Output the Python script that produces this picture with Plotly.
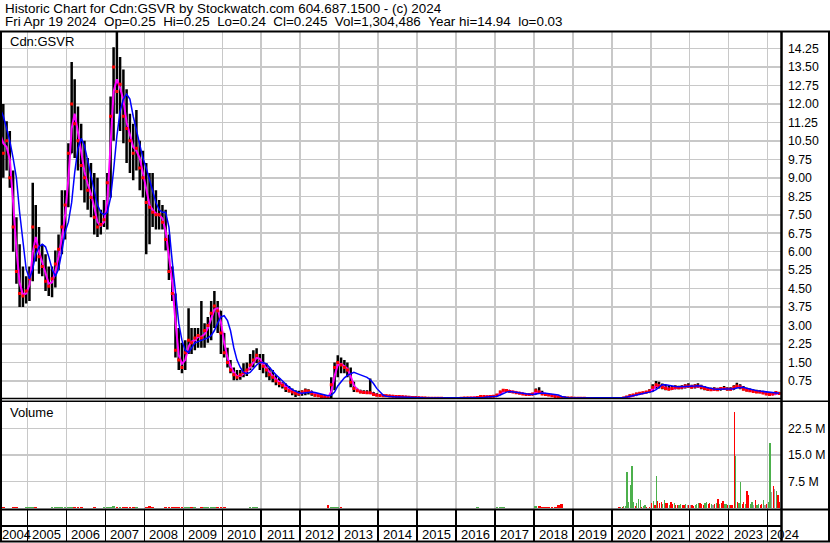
import pandas as pd
import plotly.graph_objects as go

# ---------------- data (monthly bars, Apr 2004 .. Apr 2024) ----------------
high = [
    12.7, 12.0, 11.3, 10.9, 9.3, 7.4, 6.3, 5.4, 5.0,                      # 2004 Apr-Dec
    5.4, 8.8, 7.9, 7.0, 6.3, 5.9, 5.4, 5.4, 6.05, 6.7, 8.5, 8.5,          # 2005
    10.4, 13.7, 13.0, 11.9, 11.2, 10.5, 9.8, 9.6, 9.2, 9.0, 7.7, 8.1,     # 2006
    9.2, 12.3, 14.3, 14.94, 13.9, 13.4, 12.6, 11.6, 11.2, 11.75, 10.5, 10.1,  # 2007
    9.6, 9.2, 9.2, 8.5, 8.1, 7.9, 7.7, 6.7, 5.4, 4.3, 2.9, 2.3,           # 2008
    2.4, 3.7, 2.9, 2.9, 2.9, 4.0, 3.1, 3.35, 4.0, 4.4, 4.0, 3.6,          # 2009
    2.7, 2.1, 1.6, 1.3, 1.2, 1.2, 1.47, 1.5, 1.85, 2.0, 2.08, 1.85,       # 2010
    1.85, 1.47, 1.3, 1.2, 1.0, 0.87, 0.7, 0.65, 0.55, 0.45, 0.37, 0.35,   # 2011
    0.37, 0.45, 0.42, 0.35, 0.28, 0.25, 0.22, 0.18, 0.12, 0.9, 1.5, 1.8,  # 2012
    1.7, 1.6, 1.5, 1.3, 0.72, 0.45, 0.4, 0.38, 0.38, 0.85, 0.3, 0.25,     # 2013
    0.22, 0.2, 0.19, 0.18, 0.16, 0.15, 0.15, 0.14, 0.13, 0.12, 0.11, 0.1,  # 2014
    0.09, 0.08, 0.08, 0.07, 0.07, 0.07, 0.07, 0.06, 0.06, 0.06, 0.06, 0.06,  # 2015
    0.06, 0.06, 0.07, 0.08, 0.07, 0.07, 0.1, 0.14, 0.14, 0.13, 0.14, 0.16,  # 2016
    0.22, 0.35, 0.42, 0.4, 0.36, 0.33, 0.3, 0.28, 0.26, 0.24, 0.23, 0.26,  # 2017
    0.45, 0.5, 0.35, 0.26, 0.23, 0.2, 0.17, 0.14, 0.12, 0.1, 0.08, 0.08,  # 2018
    0.07, 0.07, 0.07, 0.06, 0.06, 0.06, 0.06, 0.06, 0.06, 0.06, 0.06, 0.06,  # 2019
    0.06, 0.06, 0.06, 0.08, 0.13, 0.2, 0.22, 0.27, 0.29, 0.31, 0.34, 0.42,  # 2020
    0.62, 0.75, 0.72, 0.65, 0.6, 0.55, 0.55, 0.58, 0.56, 0.58, 0.62, 0.66,  # 2021
    0.6, 0.62, 0.66, 0.6, 0.55, 0.5, 0.48, 0.5, 0.48, 0.5, 0.55, 0.5,     # 2022
    0.5, 0.58, 0.68, 0.62, 0.55, 0.48, 0.45, 0.42, 0.4, 0.38, 0.35, 0.3,  # 2023
    0.28, 0.3, 0.32, 0.3,                                                 # 2024 Jan-Apr
]
low = [
    10.2, 9.0, 9.3, 8.6, 6.0, 4.7, 3.75, 3.75, 3.9,
    4.0, 4.8, 5.6, 5.1, 5.0, 4.4, 4.2, 4.15, 4.55, 5.25, 5.9, 6.5,
    7.8, 10.0, 9.8, 9.3, 8.5, 8.0, 7.7, 7.4, 6.7, 6.6, 6.7, 7.0,
    6.9, 8.2, 10.5, 11.6, 10.9, 10.4, 9.6, 9.2, 8.9, 9.3, 8.5, 8.2,
    5.9, 6.3, 7.0, 6.9, 6.9, 6.9, 6.05, 4.85, 4.0, 1.7, 1.2, 1.07,
    1.2, 1.85, 1.85, 2.0, 2.1, 2.1, 2.1, 2.3, 2.4, 2.9, 2.7, 1.85,
    1.7, 1.3, 1.07, 0.78, 0.78, 0.8, 0.9, 0.95, 1.2, 1.3, 1.47, 1.2,
    1.07, 0.9, 0.78, 0.7, 0.58, 0.5, 0.45, 0.3, 0.28, 0.17, 0.1, 0.15,
    0.15, 0.17, 0.2, 0.15, 0.12, 0.1, 0.08, 0.06, 0.03, 0.04, 0.37, 0.9,
    1.07, 1.07, 0.9, 0.5, 0.3, 0.3, 0.25, 0.22, 0.22, 0.22, 0.17, 0.14,
    0.14, 0.13, 0.12, 0.11, 0.1, 0.09, 0.09, 0.08, 0.07, 0.07, 0.06, 0.06,
    0.05, 0.05, 0.05, 0.04, 0.04, 0.04, 0.04, 0.04, 0.03, 0.03, 0.03, 0.03,
    0.03, 0.03, 0.04, 0.05, 0.05, 0.05, 0.05, 0.08, 0.1, 0.09, 0.1, 0.11,
    0.12, 0.18, 0.3, 0.3, 0.28, 0.26, 0.24, 0.22, 0.19, 0.17, 0.17, 0.18,
    0.2, 0.28, 0.2, 0.17, 0.15, 0.12, 0.1, 0.08, 0.06, 0.05, 0.05, 0.04,
    0.04, 0.04, 0.04, 0.04, 0.03, 0.03, 0.03, 0.03, 0.03, 0.03, 0.03, 0.03,
    0.03, 0.03, 0.03, 0.04, 0.06, 0.1, 0.15, 0.18, 0.21, 0.23, 0.25, 0.28,
    0.32, 0.45, 0.45, 0.42, 0.38, 0.38, 0.4, 0.42, 0.42, 0.42, 0.45, 0.48,
    0.45, 0.45, 0.48, 0.42, 0.38, 0.35, 0.35, 0.36, 0.35, 0.36, 0.4, 0.36,
    0.36, 0.4, 0.48, 0.42, 0.38, 0.33, 0.3, 0.28, 0.26, 0.25, 0.22, 0.18,
    0.17, 0.18, 0.2, 0.22,
]
close = [
    10.8, 10.0, 10.5, 9.0, 7.0, 5.2, 4.3, 4.2, 4.4,
    4.9, 7.0, 6.2, 5.8, 5.4, 4.8, 4.6, 4.9, 5.5, 6.1, 7.0, 7.9,
    10.0, 12.0, 11.2, 10.5, 9.5, 9.0, 8.5, 8.2, 7.4, 7.0, 7.1, 7.3,
    8.8, 11.5, 13.5, 12.5, 12.8, 11.5, 11.0, 10.5, 10.0, 10.2, 9.4, 9.0,
    8.0, 7.8, 7.6, 7.5, 7.5, 7.2, 6.5, 5.2, 4.3, 2.0, 1.6, 1.3,
    1.9, 2.4, 2.3, 2.5, 2.6, 2.5, 2.8, 3.0, 3.5, 3.8, 3.6, 2.7,
    1.9, 1.5, 1.2, 1.0, 0.9, 1.0, 1.1, 1.2, 1.4, 1.6, 1.8, 1.5,
    1.35, 1.2, 1.0, 0.9, 0.75, 0.65, 0.58, 0.45, 0.35, 0.3, 0.25, 0.22,
    0.3, 0.35, 0.33, 0.25, 0.17, 0.15, 0.12, 0.1, 0.06, 0.6, 1.3, 1.5,
    1.4, 1.3, 1.2, 0.7, 0.45, 0.35, 0.3, 0.28, 0.27, 0.27, 0.2, 0.17,
    0.16, 0.15, 0.15, 0.14, 0.13, 0.12, 0.12, 0.11, 0.1, 0.09, 0.08, 0.08,
    0.07, 0.06, 0.06, 0.05, 0.05, 0.05, 0.05, 0.05, 0.04, 0.04, 0.04, 0.04,
    0.04, 0.05, 0.06, 0.06, 0.06, 0.06, 0.08, 0.12, 0.12, 0.11, 0.12, 0.13,
    0.18, 0.3, 0.38, 0.36, 0.32, 0.3, 0.27, 0.25, 0.22, 0.2, 0.2, 0.22,
    0.35, 0.3, 0.22, 0.2, 0.18, 0.15, 0.12, 0.1, 0.08, 0.07, 0.06, 0.06,
    0.05, 0.05, 0.05, 0.05, 0.04, 0.04, 0.04, 0.04, 0.04, 0.04, 0.04, 0.04,
    0.04, 0.04, 0.04, 0.06, 0.1, 0.15, 0.18, 0.22, 0.25, 0.27, 0.3, 0.34,
    0.5, 0.6, 0.55, 0.5, 0.45, 0.42, 0.45, 0.5, 0.48, 0.5, 0.55, 0.55,
    0.5, 0.55, 0.55, 0.5, 0.45, 0.42, 0.4, 0.42, 0.4, 0.45, 0.45, 0.42,
    0.42, 0.5, 0.55, 0.5, 0.42, 0.38, 0.35, 0.32, 0.3, 0.3, 0.26, 0.22,
    0.2, 0.22, 0.28, 0.245,
]
first_open = 12.5
ma_long = [
    11.8, 11.5, 11.0, 10.5, 9.8, 9.0, 7.6, 6.3, 5.3,
    4.9, 5.3, 5.9, 6.2, 6.3, 6.2, 5.8, 5.3, 5.0, 5.3, 6.0, 6.8,
    7.2, 8.0, 9.2, 10.2, 10.6, 10.3, 9.7, 9.1, 8.5, 7.9, 7.6, 7.5,
    7.6, 8.2, 9.3, 10.7, 11.7, 12.2, 12.4, 12.2, 11.5, 10.9, 10.3, 9.8,
    9.4, 8.9, 8.4, 8.0, 7.7, 7.6, 7.6, 7.0, 5.6, 4.3, 3.1, 2.4,
    2.0, 1.9, 2.1, 2.3, 2.35, 2.4, 2.45, 2.5, 2.6, 2.8, 3.1, 3.35,
    3.4, 3.2, 2.8, 2.1, 1.6, 1.3, 1.1, 1.05, 1.1, 1.25, 1.4, 1.5,
    1.5, 1.45, 1.3, 1.15, 1.0, 0.88, 0.75, 0.62, 0.5, 0.4, 0.32, 0.27,
    0.25, 0.27, 0.3, 0.3, 0.28, 0.25, 0.22, 0.18, 0.15, 0.17, 0.3, 0.55,
    0.72, 0.88, 0.98, 1.05, 1.1, 1.05, 1.0, 0.95, 0.9, 0.8, 0.65, 0.45,
    0.3, 0.17, 0.13, 0.11, 0.1, 0.1, 0.1, 0.1, 0.1, 0.09, 0.09, 0.08,
    0.07, 0.07, 0.06, 0.06, 0.06, 0.06, 0.06, 0.06, 0.06, 0.06, 0.06, 0.06,
    0.06, 0.06, 0.06, 0.06, 0.06, 0.06, 0.06, 0.07, 0.08, 0.1, 0.11, 0.12,
    0.13, 0.18, 0.25, 0.3, 0.32, 0.31, 0.29, 0.27, 0.25, 0.23, 0.21, 0.2,
    0.22, 0.25, 0.26, 0.25, 0.23, 0.21, 0.2, 0.18, 0.12, 0.08, 0.07, 0.06,
    0.06, 0.06, 0.06, 0.06, 0.06, 0.06, 0.06, 0.06, 0.06, 0.06, 0.06, 0.06,
    0.06, 0.06, 0.06, 0.08, 0.1, 0.12, 0.15, 0.18, 0.21, 0.24, 0.26, 0.3,
    0.33, 0.4, 0.5, 0.6, 0.6, 0.57, 0.55, 0.53, 0.52, 0.52, 0.53, 0.54,
    0.55, 0.55, 0.56, 0.55, 0.52, 0.48, 0.45, 0.43, 0.42, 0.42, 0.44, 0.44,
    0.43, 0.44, 0.47, 0.5, 0.5, 0.46, 0.42, 0.39, 0.36, 0.34, 0.32, 0.3,
    0.28, 0.26, 0.25, 0.25,
]

# volume (millions of shares): monthly Apr 2004 .. Dec 2019
vol_early_m = [
    0.3, 0.3, 0.2, 0.2, 0.3, 0.3, 0.2, 0.2, 0.3,
    0.3, 0.4, 0.3, 0.2, 0.2, 0.2, 0.2, 0.3, 0.3, 0.3, 0.4, 0.3,
    0.4, 0.5, 0.4, 0.3, 0.3, 0.2, 0.2, 0.2, 0.3, 0.2, 0.2, 0.3,
    0.3, 0.5, 0.6, 0.5, 0.4, 0.3, 0.3, 0.3, 0.3, 0.3, 0.2, 0.2,
    0.3, 0.8, 0.3, 0.2, 0.2, 0.2, 0.3, 0.3, 0.4, 0.4, 0.3, 0.3,
    0.3, 0.4, 0.3, 0.3, 0.2, 0.3, 0.3, 0.3, 0.4, 0.4, 0.3, 0.3,
    0.3, 0.2, 0.2, 0.2, 0.2, 0.2, 0.2, 0.2, 0.3, 0.3, 0.3, 0.2,
    0.2, 0.2, 0.2, 0.2, 0.2, 0.2, 0.2, 0.2, 0.2, 0.2, 0.2, 0.2,
    0.2, 0.2, 0.2, 0.2, 0.2, 0.2, 0.2, 0.2, 0.9, 0.5, 0.4, 0.3,
    0.3, 0.2, 0.2, 0.2, 0.2, 0.2, 0.2, 0.2, 0.2, 0.2, 0.2, 0.2,
    0.2, 0.2, 0.2, 0.2, 0.2, 0.2, 0.2, 0.2, 0.2, 0.2, 0.2, 0.2,
    0.1, 0.1, 0.1, 0.1, 0.1, 0.1, 0.1, 0.1, 0.1, 0.1, 0.1, 0.1,
    0.1, 0.1, 0.1, 0.1, 0.1, 0.1, 0.4, 0.2, 0.2, 0.2, 0.2, 0.2,
    0.3, 0.4, 0.3, 0.2, 0.2, 0.2, 0.2, 0.2, 0.2, 0.2, 0.2, 0.2,
    0.6, 0.8, 0.5, 0.4, 0.3, 0.4, 0.3, 1.0, 1.3, 0.2, 0.1, 0.1,
    0.1, 0.1, 0.1, 0.1, 0.1, 0.1, 0.1, 0.1, 0.1, 0.1, 0.1, 0.1,
]
# volume (millions), twice a month Jan 2020 .. Apr 2024 (8th and 23rd)
vol_late_m = [
    0.1, 0.1, 0.1, 0.2, 0.3, 0.3, 0.5, 0.6, 0.8, 10.3, 1.9, 6.7,
    11.9, 1.9, 0.6, 1.4, 2.6, 2.5, 0.5, 0.6, 1.0, 0.4, 0.2, 0.3,
    1.5, 2.2, 1.0, 9.0, 2.0, 1.4, 1.8, 1.2, 2.3, 1.4, 1.5, 1.1,
    1.8, 1.3, 1.4, 1.0, 1.1, 1.0, 1.2, 0.9, 1.0, 1.2, 0.9, 1.0,
    0.9, 1.1, 0.8, 1.0, 1.3, 1.6, 1.5, 1.2, 1.1, 1.4, 1.8, 1.3,
    1.4, 1.2, 1.1, 1.3, 1.4, 2.6, 1.3, 1.5, 2.0, 1.2, 1.3, 1.0,
    1.0, 0.9, 0.9, 27.2, 14.8, 1.9, 1.4, 7.4, 1.2, 1.8, 1.2, 5.0,
    3.9, 1.3, 1.8, 0.9, 2.3, 1.0, 1.3, 1.0, 1.2, 2.3, 1.0, 1.3,
    1.8, 18.3, 4.5, 6.2, 5.5, 4.9, 3.8, 1.8,
]
vol_late_dir = list(
    "ngrgrgrggggg" "ggrgggrggrrr"
    "rgrgrrrggrrg" "rrgrrgg" "rrgnr"
    "nrrgggrrrggr" "rgnrgrgrrggr"
    "grrrgrggrrgr" "rgg" "nrggrrgnr"
    "ggnrngrr"
)
years = list(range(2004, 2025))
price_ticks = [0.75, 1.50, 2.25, 3.00, 3.75, 4.50, 5.25, 6.00, 6.75, 7.50,
               8.25, 9.00, 9.75, 10.50, 11.25, 12.00, 12.75, 13.50, 14.25]
price_tick_text = ["0.75", "1.50", "2.25", "3.00", "3.75", "4.50", "5.25", "6.00", "6.75", "7.50",
                   "8.25", "9.00", "9.75", "10.50", "11.25", "12.00", "12.75", "13.50", "14.25"]
vol_ticks_m = [7.5, 15.0, 22.5]
vol_tick_text = ["7.5 M", "15.0 M", "22.5 M"]

title_1 = "Historic Chart for Cdn:GSVR by Stockwatch.com 604.687.1500 - (c) 2024"
title_2 = ("Fri Apr 19 2024\u00a0\u00a0Op=0.25\u00a0\u00a0Hi=0.25\u00a0\u00a0Lo=0.24\u00a0\u00a0Cl=0.245"
           "\u00a0\u00a0Vol=1,304,486\u00a0\u00a0Year hi=14.94\u00a0\u00a0lo=0.03")

# ---------------- derived ----------------
months = pd.date_range("2004-04-01", periods=len(close), freq="MS") + pd.Timedelta(days=18)
opens = [first_open] + close[:-1]
ma_short = pd.Series(close).rolling(2, min_periods=1).mean().tolist()

GREEN, RED, GREY = "#4cb04c", "#ff0000", "#a0a0a0"
n_early = len(vol_early_m)
early_colors = []
for i in range(n_early):
    if close[i] > opens[i]:
        early_colors.append(GREEN)
    elif close[i] < opens[i]:
        early_colors.append(RED)
    else:
        early_colors.append(GREY)
late_dates = []
for y in range(2020, 2025):
    for m in range(1, 13):
        if y == 2024 and m > 4:
            break
        late_dates.append(pd.Timestamp(y, m, 8))
        late_dates.append(pd.Timestamp(y, m, 23))
cmap = {"g": GREEN, "r": RED, "n": GREY}
late_colors = [cmap[c] for c in vol_late_dir]

# ---------------- figure ----------------
W, H = 830, 543
def fx(p):
    return p / W
def fy(p):
    return 1 - p / H

FONT = "Liberation Sans, Arial, sans-serif"
GRID = "#c8c8c8"
XRANGE = ["2004-04-18", "2024-05-15"]
DAY = 86400000

fig = go.Figure()
fig.add_trace(go.Ohlc(
    x=months, open=opens, high=high, low=low, close=close,
    increasing=dict(line=dict(color="black", width=2.5)),
    decreasing=dict(line=dict(color="black", width=2.5)),
    tickwidth=0.15, xaxis="x", yaxis="y", hoverinfo="skip", showlegend=False))
fig.add_trace(go.Scatter(x=months, y=ma_short, mode="lines", line=dict(color="#ff00ff", width=2),
                         xaxis="x", yaxis="y", hoverinfo="skip", showlegend=False))
fig.add_trace(go.Scatter(x=months, y=close, mode="markers",
                         marker=dict(symbol="square", size=3, color="red", line=dict(width=0)),
                         xaxis="x", yaxis="y", hoverinfo="skip", showlegend=False))
fig.add_trace(go.Scatter(x=months, y=ma_long, mode="lines", line=dict(color="#0000ff", width=1.5),
                         xaxis="x", yaxis="y", hoverinfo="skip", showlegend=False))
fig.add_trace(go.Bar(x=months[:n_early], y=[v * 1e6 for v in vol_early_m],
                     marker=dict(color=early_colors, line=dict(width=0)), width=26 * DAY,
                     xaxis="x2", yaxis="y2", hoverinfo="skip", showlegend=False))
fig.add_trace(go.Bar(x=late_dates, y=[v * 1e6 for v in vol_late_m],
                     marker=dict(color=late_colors, line=dict(width=0)), width=12 * DAY,
                     xaxis="x2", yaxis="y2", hoverinfo="skip", showlegend=False))
fig.add_trace(go.Scatter(x=[months[0]], y=[0.5], mode="markers", marker=dict(opacity=0),
                         xaxis="x3", yaxis="y3", hoverinfo="skip", showlegend=False))

xcommon = dict(type="date", range=XRANGE, tick0="2005-01-01", dtick="M12",
               showticklabels=False, ticks="", showgrid=True, zeroline=False,
               showline=False, fixedrange=True, domain=[0, fx(782)])
tickfont = dict(family=FONT, size=12.3, color="black")

shapes = []
for (x0, y0, x1, y1, w) in [
    (0, 31.5, 830, 31.5, 2),      # top frame
    (1, 31, 1, 542, 2),           # left frame
    (829, 31, 829, 542, 2),       # right frame
    (0, 541.5, 830, 541.5, 2),    # bottom frame
    (781.5, 31, 781.5, 542, 2.5), # axis divider
    (0, 398.5, 782, 398.5, 1.5),  # price panel bottom
    (0, 401.3, 830, 401.3, 1.5),  # volume panel top
    (0, 509.5, 830, 509.5, 2),    # volume panel bottom
]:
    shapes.append(dict(type="line", xref="paper", yref="paper",
                       x0=fx(x0), y0=fy(y0), x1=fx(x1), y1=fy(y1),
                       line=dict(color="black", width=w), layer="above"))

annotations = [
    dict(text=title_1, x=fx(3), y=fy(8.5), xref="paper", yref="paper",
         xanchor="left", yanchor="middle", showarrow=False,
         font=dict(family=FONT, size=13.4, color="black")),
    dict(text=title_2, x=fx(3), y=fy(21.5), xref="paper", yref="paper",
         xanchor="left", yanchor="middle", showarrow=False,
         font=dict(family=FONT, size=13.4, color="black")),
    dict(text="Cdn:GSVR", x=fx(8), y=fy(41.5), xref="paper", yref="paper",
         xanchor="left", yanchor="middle", showarrow=False,
         font=dict(family=FONT, size=13, color="black")),
    dict(text="Volume", x=fx(8), y=fy(413), xref="paper", yref="paper",
         xanchor="left", yanchor="middle", showarrow=False,
         font=dict(family=FONT, size=13, color="black")),
]
for yr in years:
    if yr == years[0]:
        ax, anc = XRANGE[0], "left"
    elif yr == years[-1]:
        ax, anc = f"{yr}-01-01", "left"
    else:
        ax, anc = f"{yr}-07-02", "center"
    annotations.append(dict(text=str(yr), x=ax, y=fy(534), xref="x3", yref="paper",
                            xanchor=anc, yanchor="middle", showarrow=False,
                            font=dict(family=FONT, size=13, color="black")))

fig.update_layout(
    width=W, height=H, margin=dict(l=0, r=0, t=0, b=0, pad=0),
    paper_bgcolor="white", plot_bgcolor="white", showlegend=False,
    bargap=0, barmode="overlay",
    xaxis=dict(**xcommon, anchor="y", gridcolor=GRID, gridwidth=1.5, rangeslider=dict(visible=False)),
    xaxis2=dict(**xcommon, anchor="y2", matches="x", gridcolor=GRID, gridwidth=1.5),
    xaxis3=dict(**xcommon, anchor="y3", matches="x", gridcolor="black", gridwidth=1.5),
    yaxis=dict(domain=[fy(398.5), fy(32)], range=[0.04, 14.92], side="right", anchor="x",
               tickvals=price_ticks, ticktext=price_tick_text, tickfont=tickfont,
               showgrid=True, gridcolor=GRID, gridwidth=1.5, zeroline=False, showline=False,
               ticks="", ticklabelstandoff=5, fixedrange=True),
    yaxis2=dict(domain=[fy(509.5), fy(401.3)], range=[-0.3e6, 30.1e6], side="right", anchor="x2",
                tickvals=[v * 1e6 for v in vol_ticks_m], ticktext=vol_tick_text, tickfont=tickfont,
                showgrid=True, gridcolor=GRID, gridwidth=1.5, zeroline=False, showline=False,
                ticks="", ticklabelstandoff=5, fixedrange=True),
    yaxis3=dict(domain=[fy(541.5), fy(509.5)], range=[0, 2], anchor="x3",
                tickvals=[0.97], showticklabels=False, showgrid=True, gridcolor="black",
                gridwidth=1.5, zeroline=False, showline=False, ticks="", fixedrange=True),
    shapes=shapes, annotations=annotations,
)

fig.write_html("out.html", config={"displayModeBar": False, "staticPlot": True},
               post_script="document.body.style.margin='0';document.body.style.overflow='hidden';")
